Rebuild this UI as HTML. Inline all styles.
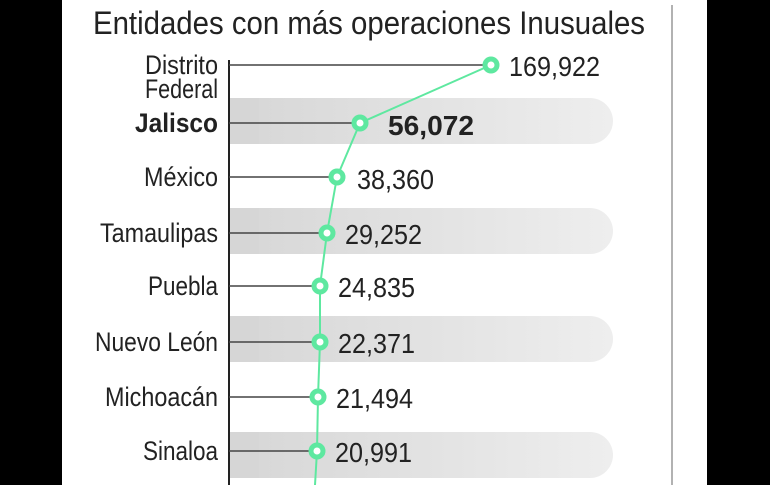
<!DOCTYPE html>
<html><head><meta charset="utf-8"><style>
html,body{margin:0;padding:0;background:#000;}
svg{display:block;}
text{font-family:"Liberation Sans",sans-serif;fill:#222;}
</style></head><body>
<svg width="770" height="485" viewBox="0 0 770 485" xmlns="http://www.w3.org/2000/svg">
<defs>
<linearGradient id="g" x1="0" x2="1" y1="0" y2="0">
<stop offset="0" stop-color="#d6d6d6"/><stop offset="1" stop-color="#eeeeee"/>
</linearGradient>
</defs>
<rect x="0" y="0" width="770" height="485" fill="#000"/>
<rect x="62" y="0" width="645" height="485" fill="#fff"/>
<line x1="672" y1="5" x2="672" y2="485" stroke="#999" stroke-width="1.5"/>
<rect x="229" y="98" width="384" height="46" rx="23" fill="url(#g)"/>
<rect x="229" y="208" width="384" height="46" rx="23" fill="url(#g)"/>
<rect x="229" y="316" width="384" height="46" rx="23" fill="url(#g)"/>
<rect x="229" y="432" width="384" height="46" rx="23" fill="url(#g)"/>
<rect x="229" y="98" width="30" height="46" fill="#d6d6d6"/>
<rect x="229" y="208" width="30" height="46" fill="#d6d6d6"/>
<rect x="229" y="316" width="30" height="46" fill="#d6d6d6"/>
<rect x="229" y="432" width="30" height="46" fill="#d6d6d6"/>
<text x="93" y="34" font-size="32" textLength="552" lengthAdjust="spacingAndGlyphs">Entidades con más operaciones Inusuales</text>
<line x1="229" y1="60" x2="229" y2="485" stroke="#222" stroke-width="2"/>
<g stroke="#444" stroke-width="1.5">
<line x1="229" y1="65" x2="491" y2="65"/>
<line x1="229" y1="123" x2="360" y2="123"/>
<line x1="229" y1="177" x2="337" y2="177"/>
<line x1="229" y1="233" x2="327" y2="233"/>
<line x1="229" y1="286" x2="320" y2="286"/>
<line x1="229" y1="342" x2="320" y2="342"/>
<line x1="229" y1="397" x2="318" y2="397"/>
<line x1="229" y1="451" x2="317" y2="451"/>
</g>
<polyline points="491,65 360,123 337,177 327,233 320,286 320,342 318,397 317,451 315,485" fill="none" stroke="#5ee8a0" stroke-width="2"/>
<g fill="#fff" stroke="#5ee8a0" stroke-width="5">
<circle cx="491" cy="65" r="6"/><circle cx="360" cy="123" r="6"/><circle cx="337" cy="177" r="6"/><circle cx="327" cy="233" r="6"/>
<circle cx="320" cy="286" r="6"/><circle cx="320" cy="342" r="6"/><circle cx="318" cy="397" r="6"/><circle cx="317" cy="451" r="6"/>
</g>
<g font-size="27" text-anchor="end">
<text x="218" y="74" textLength="73" lengthAdjust="spacingAndGlyphs">Distrito</text>
<text x="218" y="98" textLength="73" lengthAdjust="spacingAndGlyphs">Federal</text>
<text x="218" y="132" font-weight="bold" fill="#111" textLength="83" lengthAdjust="spacingAndGlyphs">Jalisco</text>
<text x="218" y="186" textLength="74" lengthAdjust="spacingAndGlyphs">México</text>
<text x="218" y="242" textLength="118" lengthAdjust="spacingAndGlyphs">Tamaulipas</text>
<text x="218" y="295" textLength="70" lengthAdjust="spacingAndGlyphs">Puebla</text>
<text x="218" y="351" textLength="123" lengthAdjust="spacingAndGlyphs">Nuevo León</text>
<text x="218" y="406" textLength="113" lengthAdjust="spacingAndGlyphs">Michoacán</text>
<text x="218" y="460" textLength="75" lengthAdjust="spacingAndGlyphs">Sinaloa</text>
</g>
<g font-size="28">
<text x="509" y="76" textLength="91" lengthAdjust="spacingAndGlyphs">169,922</text>
<text x="388" y="135" font-weight="bold" fill="#111" textLength="86" lengthAdjust="spacingAndGlyphs">56,072</text>
<text x="357" y="189" textLength="77" lengthAdjust="spacingAndGlyphs">38,360</text>
<text x="345" y="244" textLength="77" lengthAdjust="spacingAndGlyphs">29,252</text>
<text x="338" y="297" textLength="77" lengthAdjust="spacingAndGlyphs">24,835</text>
<text x="338" y="353" textLength="77" lengthAdjust="spacingAndGlyphs">22,371</text>
<text x="336" y="408" textLength="77" lengthAdjust="spacingAndGlyphs">21,494</text>
<text x="335" y="462" textLength="77" lengthAdjust="spacingAndGlyphs">20,991</text>
</g>
</svg>
</body></html>
